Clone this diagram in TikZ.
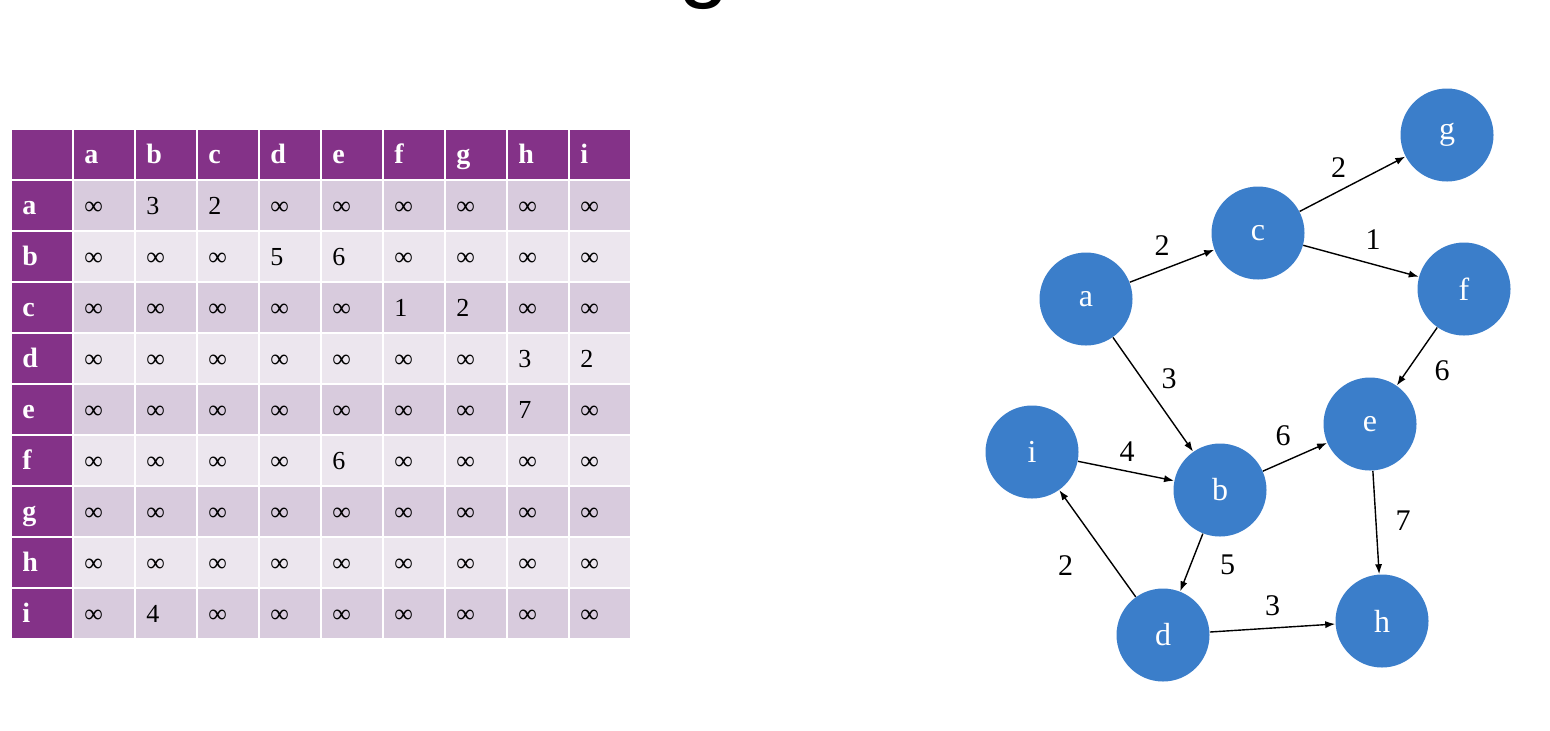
\documentclass[tikz,border=0pt]{standalone}
\usepackage{fontspec}
\setmainfont{Liberation Serif}
\newfontfamily\titlefont{Liberation Sans}
\usetikzlibrary{matrix,arrows.meta}

\definecolor{tabhead}{RGB}{132,50,136}
\definecolor{rowdark}{RGB}{216,203,221}
\definecolor{rowlight}{RGB}{236,230,238}
\definecolor{vertexblue}{RGB}{59,126,202}

\begin{document}
\begin{tikzpicture}[x=0.5pt, y=-0.5pt,
    cellbox/.style={minimum height=24.5pt, text width=20pt, inner xsep=5pt, inner ysep=0pt, align=left, text height=9pt, text depth=0pt, font=\fontsize{13}{15}\selectfont, fill=rowlight},
    hd/.style={fill=tabhead, text=white, font=\fontsize{14}{16}\selectfont\bfseries},
    darkrow/.style={nodes={fill=rowdark}},
    vertex/.style={circle, fill=vertexblue, text=white, minimum size=46.5pt, inner sep=0pt, font=\fontsize{16}{18}\selectfont},
    wt/.style={font=\fontsize{15}{17}\selectfont, inner sep=0pt},
    arc/.style={-{Latex[length=5pt,width=3.6pt]}, line width=0.7pt}]
    \useasboundingbox (0,0) rectangle (1550,730);

    % title, cut off at the top
    \node (title) at (704,-9.5) [anchor=base, inner sep=0pt, font=\titlefont\fontsize{46}{50}\selectfont] {g};

    % adjacency matrix
    \matrix (adj) at (12,130) [matrix of nodes, nodes in empty cells, anchor=north west, inner sep=0pt,
        column sep=1pt, row sep=1pt, nodes={cellbox},
        row 1/.style={nodes=hd}, row 2/.style=darkrow, row 4/.style=darkrow,
        row 6/.style=darkrow, row 8/.style=darkrow, row 10/.style=darkrow] {
        & a & b & c & d & e & f & g & h & i \\
        |[hd]| a & ∞ & 3 & 2 & ∞ & ∞ & ∞ & ∞ & ∞ & ∞ \\
        |[hd]| b & ∞ & ∞ & ∞ & 5 & 6 & ∞ & ∞ & ∞ & ∞ \\
        |[hd]| c & ∞ & ∞ & ∞ & ∞ & ∞ & 1 & 2 & ∞ & ∞ \\
        |[hd]| d & ∞ & ∞ & ∞ & ∞ & ∞ & ∞ & ∞ & 3 & 2 \\
        |[hd]| e & ∞ & ∞ & ∞ & ∞ & ∞ & ∞ & ∞ & 7 & ∞ \\
        |[hd]| f & ∞ & ∞ & ∞ & ∞ & 6 & ∞ & ∞ & ∞ & ∞ \\
        |[hd]| g & ∞ & ∞ & ∞ & ∞ & ∞ & ∞ & ∞ & ∞ & ∞ \\
        |[hd]| h & ∞ & ∞ & ∞ & ∞ & ∞ & ∞ & ∞ & ∞ & ∞ \\
        |[hd]| i & ∞ & 4 & ∞ & ∞ & ∞ & ∞ & ∞ & ∞ & ∞ \\
    };

    % graph
    \node (a) at (1086,299) [vertex] {a};
    \node (c) at (1258,233) [vertex] {c};
    \node (g) at (1447,135) [vertex] {g};
    \node (f) at (1464,289) [vertex] {f};
    \node (e) at (1370,424) [vertex] {e};
    \node (i) at (1032,452) [vertex] {i};
    \node (b) at (1220,490) [vertex] {b};
    \node (d) at (1163,635) [vertex] {d};
    \node (h) at (1382,621) [vertex] {h};

    \draw[arc] (a) -- node[wt, xshift=-5pt, yshift=10pt] {2} (c);
    \draw[arc] (c) -- node[wt, xshift=-7pt, yshift=8pt] {2} (g);
    \draw[arc] (c) -- node[wt, xshift=6pt, yshift=10.5pt] {1} (f);
    \draw[arc] (a) -- node[wt, xshift=8pt, yshift=8pt] {3} (b);
    \draw[arc] (f) -- node[wt, xshift=12.5pt, yshift=-7pt] {6} (e);
    \draw[arc] (i) -- node[wt, xshift=0.5pt, yshift=9.5pt] {4} (b);
    \draw[arc] (b) -- node[wt, xshift=-6pt, yshift=10.5pt] {6} (e);
    \draw[arc] (e) -- node[wt, xshift=13.5pt, yshift=1pt] {7} (h);
    \draw[arc] (b) -- node[wt, xshift=18pt, yshift=-1pt] {5} (d);
    \draw[arc] (d) -- node[wt, xshift=-16pt, yshift=-11pt] {2} (i);
    \draw[arc] (d) -- node[wt, xshift=0pt, yshift=11pt] {3} (h);
\end{tikzpicture}
\end{document}
